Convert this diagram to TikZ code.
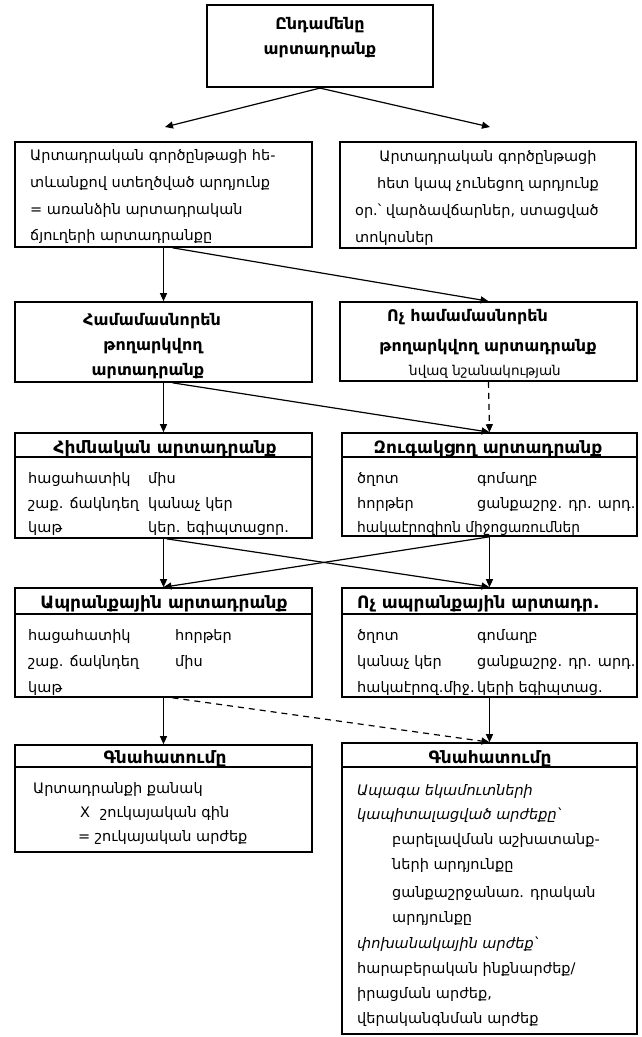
\documentclass[tikz,border=0pt]{standalone}
\usepackage{fontspec}
\setmainfont{DejaVu Sans}
\usetikzlibrary{arrows.meta}
\begin{document}
\begin{tikzpicture}[x=1pt,y=-1pt,
  box/.style={draw, line width=1.6pt, inner sep=0pt},
  sepline/.style={line width=1.6pt},
  arr/.style={line width=1.2pt, -{Triangle[length=8pt,width=7pt]}},
  darr/.style={arr, dash pattern=on 6pt off 5pt},
  tx/.style={anchor=base west, inner sep=0pt, font=\fontsize{14.5}{16}\selectfont},
  txc/.style={anchor=base, inner sep=0pt, font=\fontsize{14.5}{16}\selectfont},
  txi/.style={tx, font=\itshape\fontsize{14.5}{16}\selectfont},
  ttl/.style={anchor=base, inner sep=0pt, font=\bfseries\fontsize{17}{19}\selectfont},
  ttlw/.style={anchor=base west, inner sep=0pt, font=\bfseries\fontsize{17}{19}\selectfont},
  ttlm/.style={anchor=base, inner sep=0pt, font=\bfseries\fontsize{16}{18}\selectfont},
  ttlmw/.style={anchor=base west, inner sep=0pt, font=\bfseries\fontsize{16}{18}\selectfont},
  ttlbig/.style={anchor=base, inner sep=0pt, font=\bfseries\fontsize{16}{18}\selectfont},
  sml/.style={anchor=base, inner sep=0pt, font=\fontsize{13.5}{15}\selectfont}]
\useasboundingbox (0,0) rectangle (641,1037);

% boxes
\node[box, line width=2.2pt, minimum width=226, minimum height=82] (b1) at (320,46) {};
\node[box, minimum width=297, minimum height=105] (b2l) at (163.5,194.5) {};
\node[box, minimum width=296, minimum height=106] (b2r) at (488,195) {};
\node[box, minimum width=297, minimum height=80] (b3l) at (163.5,342) {};
\node[box, minimum width=297, minimum height=79] (b3r) at (488.5,341.5) {};
\node[box, minimum width=297, minimum height=105] (b4l) at (163.5,485.5) {};
\node[box, minimum width=295, minimum height=103] (b4r) at (489.5,484.5) {};
\node[box, minimum width=297, minimum height=109] (b5l) at (163.5,642.5) {};
\node[box, minimum width=295, minimum height=109] (b5r) at (489.5,642.5) {};
\node[box, minimum width=297, minimum height=107] (b6l) at (163.5,798.5) {};
\node[box, minimum width=295, minimum height=291] (b6r) at (489.5,888.5) {};

% title separators
\draw[sepline] ([yshift=-25pt]b4l.north west) -- ([yshift=-25pt]b4l.north east);
\draw[sepline] ([yshift=-25pt]b4r.north west) -- ([yshift=-25pt]b4r.north east);
\draw[sepline] ([yshift=-27pt]b5l.north west) -- ([yshift=-27pt]b5l.north east);
\draw[sepline] ([yshift=-27pt]b5r.north west) -- ([yshift=-27pt]b5r.north east);
\draw[sepline] ([yshift=-23pt]b6l.north west) -- ([yshift=-23pt]b6l.north east);
\draw[sepline] ([yshift=-25pt]b6r.north west) -- ([yshift=-25pt]b6r.north east);

% connectors
\coordinate (a1) at (165,127);
\coordinate (a2) at (490,127);
\draw[arr] (b1.south) -- (a1);
\draw[arr] (b1.south) -- (a2);
\draw[arr] (b2l.south) -- (b3l.north);
\draw[arr] ([xshift=9pt]b2l.south) -- (b3r.north);
\draw[arr] (b3l.south) -- (b4l.north);
\draw[arr] ([xshift=9pt]b3l.south) -- (b4r.north);
\draw[darr] (b3r.south) -- (b4r.north);
\draw[arr] (b4l.south) -- (b5l.north);
\draw[arr] ([xshift=3pt]b4l.south) -- (b5r.north);
\draw[arr] (b4r.south) -- (b5r.north);
\draw[arr] (b4r.south) -- (b5l.north);
\draw[arr] (b5l.south) -- (b6l.north);
\draw[darr] ([xshift=9pt]b5l.south) -- (b6r.north);
\draw[arr] (b5r.south) -- (b6r.north);

% texts box 1
\node[ttlbig] (t1a) at (320,29) {Ընդամենը};
\node[ttlbig] (t1b) at (320,54) {արտադրանք};

% box 2 left
\node[tx] (t2a) at (30,160) {Արտադրական գործընթացի հե-};
\node[tx] (t2b) at (30,187) {տևանքով ստեղծված արդյունք};
\node[tx] (t2c) at (30,214) {= առանձին արտադրական};
\node[tx] (t2d) at (30,240) {ճյուղերի արտադրանքը};

% box 2 right
\node[txc] (t3a) at (488,161) {Արտադրական գործընթացի};
\node[txc] (t3b) at (488,188) {հետ կապ չունեցող արդյունք};
\node[tx] (t3c) at (355,215) {օր.՝ վարձավճարներ, ստացված};
\node[tx] (t3d) at (355,242) {տոկոսներ};

% box 3 left
\node[ttlm] (t4a) at (152,325) {Համամասնորեն};
\node[ttlm] (t4b) at (153,350) {թողարկվող};
\node[ttlm] (t4c) at (148,375) {արտադրանք};

% box 3 right
\node[ttlmw] (t5a) at (387,321) {Ոչ համամասնորեն};
\node[ttlm] (t5b) at (488,351) {թողարկվող արտադրանք};
\node[sml] (t5c) at (485,375) {նվազ նշանակության};

% box 4 left
\node[ttl] (t6) at (165,453) {Հիմնական արտադրանք};
\node[tx] (t6a) at (28,483) {հացահատիկ};
\node[tx] (t6b) at (148,483) {միս};
\node[tx] (t6c) at (28,508) {շաք. ճակնդեղ};
\node[tx] (t6d) at (148,508) {կանաչ կեր};
\node[tx] (t6e) at (28,532) {կաթ};
\node[tx] (t6f) at (148,532) {կեր. եգիպտացոր.};

% box 4 right
\node[ttl] (t7) at (488,453) {Զուգակցող արտադրանք};
\node[tx] (t7a) at (357,483) {ծղոտ};
\node[tx] (t7b) at (477,483) {գոմաղբ};
\node[tx] (t7c) at (357,508) {հորթեր};
\node[tx] (t7d) at (477,508) {ցանքաշրջ. դր. արդ.};
\node[tx] (t7e) at (357,532) {\scalebox{0.95}[1]{հակաէրոզիոն միջոցառումներ}};

% box 5 left
\node[ttl] (t8) at (164,608) {Ապրանքային արտադրանք};
\node[tx] (t8a) at (28,640) {հացահատիկ};
\node[tx] (t8b) at (175,640) {հորթեր};
\node[tx] (t8c) at (28,666) {շաք. ճակնդեղ};
\node[tx] (t8d) at (175,666) {միս};
\node[tx] (t8e) at (28,692) {կաթ};

% box 5 right
\node[ttlw] (t9) at (357,608) {Ոչ ապրանքային արտադր.};
\node[tx] (t9a) at (357,640) {ծղոտ};
\node[tx] (t9b) at (477,640) {գոմաղբ};
\node[tx] (t9c) at (357,666) {կանաչ կեր};
\node[tx] (t9d) at (477,666) {ցանքաշրջ. դր. արդ.};
\node[tx] (t9e) at (357,692) {հակաէրոզ.միջ.};
\node[tx] (t9f) at (477,692) {կերի եգիպտաց.};

% box 6 left
\node[ttl] (t10) at (165,763) {Գնահատումը};
\node[tx] (t10a) at (33,793) {Արտադրանքի քանակ};
\node[tx] (t10b) at (80,817) {X};
\node[tx] (t10c) at (100,817) {շուկայական գին};
\node[tx] (t10d) at (78,841) {= շուկայական արժեք};

% box 6 right
\node[ttl] (t11) at (490,763) {Գնահատումը};
\node[txi] (t11a) at (357,795) {Ապագա եկամուտների};
\node[txi] (t11b) at (357,819) {կապիտալացված արժեքը՝};
\node[tx] (t11c) at (392,844) {բարելավման աշխատանք-};
\node[tx] (t11d) at (392,869) {ների արդյունքը};
\node[tx] (t11e) at (392,897) {ցանքաշրջանառ. դրական};
\node[tx] (t11f) at (392,922) {արդյունքը};
\node[txi] (t11g) at (357,948) {փոխանակային արժեք՝};
\node[tx] (t11h) at (357,973) {հարաբերական ինքնարժեք/};
\node[tx] (t11i) at (357,998) {իրացման արժեք,};
\node[tx] (t11j) at (357,1023) {վերականգնման արժեք};
\end{tikzpicture}
\end{document}
